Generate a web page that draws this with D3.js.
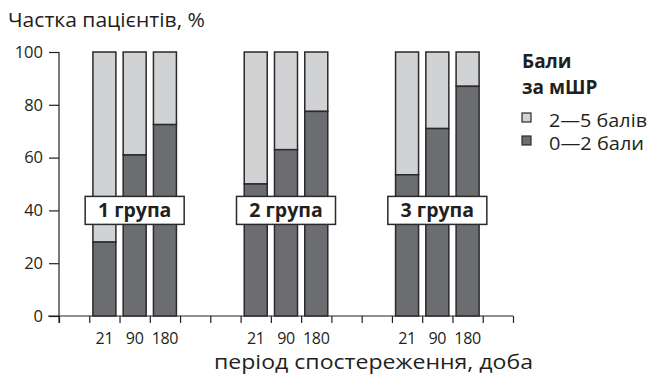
<!DOCTYPE html>
<html><head><meta charset="utf-8">
<script src="https://cdn.jsdelivr.net/npm/d3@7"></script>
<style>
html,body{margin:0;padding:0;background:#fff;}
text{font-family:"Open Sans","Noto Sans",sans-serif;fill:#231f20;}
</style></head>
<body><svg id="c" width="654" height="376"></svg>
<script>
const groups = ["1 група", "2 група", "3 група"];
const periods = ["21", "90", "180"];
const lowScore = [[28, 61, 72.5], [50, 63, 77.5], [53.5, 71, 87]]; // 0—2 бали
const yTicks = [0, 20, 40, 60, 80, 100];
const legendTitle = ["Бали", "за мШР"];
const legendItems = ["2—5 балів", "0—2 бали"];
const colors = {high: "#d1d2d4", low: "#6c6d70", stroke: "#2a2a2c"};

const svg = d3.select("#c");
const nSlots = 15;
const slotX = d3.scaleLinear().domain([0, nSlots]).range([59, 513]);
const y = d3.scaleLinear().domain([0, 100]).range([316, 52]);

// title
svg.append("text").attr("x", 8).attr("y", 27).attr("font-size", 20)
  .attr("textLength", 197).attr("lengthAdjust", "spacingAndGlyphs")
  .text("Частка пацієнтів, %");

// y axis
const yAxis = svg.append("g").attr("transform", `translate(${slotX(0)},0)`)
  .call(d3.axisLeft(y).tickValues(yTicks).tickSize(10).tickPadding(6));
yAxis.select(".domain").attr("d", `M0,${y(100)}V${y(0)+7}`);
yAxis.selectAll("line").attr("stroke", "#231f20").attr("stroke-width", 1.2);
yAxis.select(".domain").attr("stroke", "#231f20").attr("stroke-width", 1.2);
yAxis.selectAll("text").attr("font-size", 16.5).attr("font-family", "Open Sans").attr("fill", "#231f20");

// x axis with slot ticks
const xAxis = svg.append("g").attr("transform", `translate(0,${y(0)})`)
  .call(d3.axisBottom(slotX).tickValues(d3.range(0, nSlots + 1)).tickSize(7).tickFormat(""));
xAxis.select(".domain").attr("d", `M${slotX(0)-11},0H${slotX(nSlots)}`).attr("stroke", "#231f20").attr("stroke-width", 1.2);
xAxis.selectAll("line").attr("stroke", "#231f20").attr("stroke-width", 1.2);

const slotW = slotX(1) - slotX(0);
const pad = slotW * 0.12;
const data = [];
groups.forEach((g, gi) => periods.forEach((p, pi) => {
  data.push({g, gi, p, pi, slot: 1 + gi * 5 + pi, low: lowScore[gi][pi]});
}));

const bars = svg.append("g");
bars.selectAll(".hi").data(data).join("rect")
  .attr("x", d => slotX(d.slot) + pad).attr("width", slotW - 2 * pad)
  .attr("y", y(100)).attr("height", d => y(d.low) - y(100))
  .attr("fill", colors.high).attr("stroke", colors.stroke).attr("stroke-width", 1.5);
bars.selectAll(".lo").data(data).join("rect")
  .attr("x", d => slotX(d.slot) + pad).attr("width", slotW - 2 * pad)
  .attr("y", d => y(d.low)).attr("height", d => y(0) - y(d.low))
  .attr("fill", colors.low).attr("stroke", colors.stroke).attr("stroke-width", 1.5);

// period labels
svg.append("g").selectAll("text").data(data).join("text")
  .attr("x", d => slotX(d.slot + 0.5)).attr("y", 344).attr("text-anchor", "middle")
  .attr("font-size", 16).attr("letter-spacing", -0.3).text(d => d.p);

// group labels
const gl = svg.append("g").selectAll("g").data(groups).join("g")
  .attr("transform", (d, i) => `translate(${slotX(1 + i * 5 + 1.5)},${y(40)})`);
gl.append("rect").attr("x", -49.5).attr("y", -14).attr("width", 99).attr("height", 28)
  .attr("fill", "#fff").attr("stroke", colors.stroke).attr("stroke-width", 1.5);
gl.append("text").attr("text-anchor", "middle").attr("y", 7).attr("font-size", 19.5)
  .attr("font-weight", "bold").text(d => d);

// x title
svg.append("text").attr("x", 214).attr("y", 369).attr("font-size", 20)
  .attr("textLength", 319).attr("lengthAdjust", "spacingAndGlyphs")
  .text("період спостереження, доба");

// legend
const lg = svg.append("g").attr("transform", "translate(522,0)");
lg.selectAll(".lt").data(legendTitle).join("text")
  .attr("x", 0).attr("y", (d, i) => 68 + i * 26).attr("font-size", 19).attr("font-weight", "bold").text(d => d);
const li = lg.selectAll(".li").data(legendItems).join("g")
  .attr("transform", (d, i) => `translate(0,${113 + i * 23})`);
li.append("rect").attr("x", 0).attr("y", 0).attr("width", 9).attr("height", 9)
  .attr("fill", (d, i) => i === 0 ? colors.high : colors.low).attr("stroke", colors.stroke).attr("stroke-width", 1.2);
li.append("text").attr("x", 27).attr("y", 14).attr("font-size", 18.5)
  .attr("textLength", (d, i) => i === 0 ? 98 : 95).attr("lengthAdjust", "spacingAndGlyphs").text(d => d);
</script></body></html>
